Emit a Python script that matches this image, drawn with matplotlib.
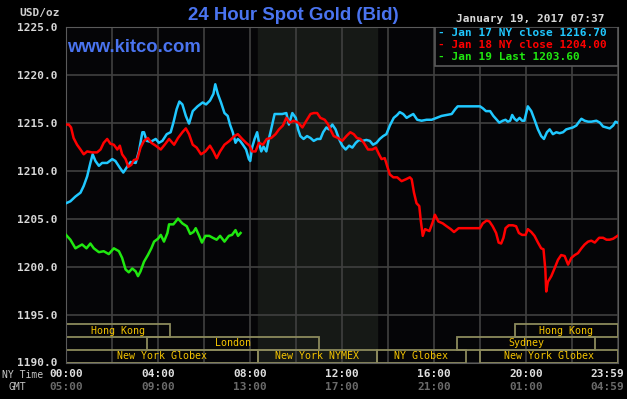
import matplotlib.pyplot as plt
from matplotlib.patches import Rectangle

# hours after midnight (NY time) and bid price in USD/oz
jan17_hours = [0.00, 0.19, 0.41, 0.63, 0.77, 0.92, 1.06, 1.16, 1.28, 1.43, 1.57, 1.79, 2.01, 2.15,
               2.34, 2.49, 2.66, 2.81, 3.03, 3.17, 3.32, 3.39, 3.51, 3.68, 3.90, 4.04, 4.19, 4.38,
               4.55, 4.67, 4.81, 4.93, 5.06, 5.21, 5.35, 5.51, 5.72, 5.94, 6.09, 6.26, 6.41, 6.49,
               6.60, 6.74, 6.89, 7.03, 7.13, 7.25, 7.37, 7.47, 7.57, 7.69, 7.83, 7.95, 8.01, 8.09,
               8.20, 8.31, 8.41, 8.49, 8.59, 8.71, 8.82, 8.92, 9.07, 9.21, 9.40, 9.58, 9.69, 9.84,
               9.99, 10.09, 10.19, 10.33, 10.48, 10.63, 10.77, 10.92, 11.06, 11.18, 11.32, 11.43,
               11.58, 11.72, 11.87, 12.01, 12.16, 12.31, 12.45, 12.60, 12.74, 12.89, 13.06, 13.21,
               13.35, 13.50, 13.64, 13.79, 13.93, 14.08, 14.25, 14.40, 14.51, 14.66, 14.81, 14.95,
               15.10, 15.27, 15.46, 15.68, 15.90, 16.12, 16.33, 16.55, 16.77, 16.92, 17.03, 17.24,
               17.53, 17.83, 18.00, 18.12, 18.26, 18.44, 18.58, 18.73, 18.84, 18.99, 19.11, 19.21,
               19.31, 19.40, 19.50, 19.60, 19.72, 19.83, 19.93, 20.08, 20.23, 20.37, 20.52, 20.66,
               20.78, 20.91, 21.03, 21.17, 21.32, 21.46, 21.61, 21.75, 21.90, 22.04, 22.19, 22.31,
               22.41, 22.55, 22.70, 22.84, 23.06, 23.21, 23.35, 23.50, 23.64, 23.79, 23.89, 23.98]
jan17_price = [1206.6, 1206.8, 1207.3, 1207.7, 1208.4, 1209.4, 1210.8, 1211.7, 1211.0, 1210.5,
               1210.8, 1210.8, 1211.2, 1211.0, 1210.3, 1209.8, 1210.4, 1210.9, 1210.8, 1212.0,
               1214.0, 1214.0, 1213.1, 1213.0, 1213.3, 1212.9, 1213.1, 1213.8, 1214.0, 1215.0,
               1216.4, 1217.2, 1216.9, 1215.7, 1214.9, 1216.2, 1216.7, 1217.1, 1216.9, 1217.3,
               1218.0, 1219.0, 1218.0, 1217.1, 1216.0, 1215.7, 1214.8, 1214.0, 1212.9, 1213.3,
               1213.1, 1212.7, 1212.2, 1211.2, 1211.0, 1212.4, 1213.3, 1214.0, 1212.7, 1212.0,
               1212.5, 1212.0, 1213.3, 1214.3, 1215.9, 1215.9, 1215.9, 1216.0, 1214.8, 1216.0,
               1215.5, 1214.3, 1213.6, 1213.3, 1213.6, 1213.4, 1213.1, 1213.3, 1213.3, 1214.0,
               1214.5, 1214.3, 1214.8, 1214.3, 1213.3, 1212.6, 1212.2, 1212.6, 1212.4, 1212.9,
               1213.2, 1213.1, 1213.2, 1213.1, 1212.7, 1212.9, 1213.3, 1213.6, 1213.8, 1214.7,
               1215.5, 1215.8, 1216.1, 1215.9, 1215.5, 1215.7, 1215.9, 1215.3, 1215.2, 1215.3,
               1215.3, 1215.5, 1215.7, 1215.8, 1215.9, 1216.4, 1216.7, 1216.7, 1216.7, 1216.7,
               1216.7, 1216.5, 1216.2, 1216.2, 1215.7, 1215.3, 1215.0, 1215.2, 1215.3, 1215.1,
               1215.2, 1215.8, 1215.4, 1215.2, 1215.5, 1215.2, 1215.2, 1216.7, 1216.2, 1215.3,
               1214.3, 1213.6, 1213.3, 1214.0, 1214.3, 1213.8, 1214.0, 1213.9, 1214.0, 1214.3,
               1214.4, 1214.5, 1214.7, 1215.1, 1215.4, 1215.2, 1215.1, 1215.1, 1215.2, 1215.0,
               1214.6, 1214.5, 1214.4, 1214.7, 1215.1, 1215.0]

jan18_hours = [0.00, 0.12, 0.22, 0.33, 0.48, 0.63, 0.77, 0.92, 1.13, 1.35, 1.50, 1.64, 1.79, 1.93,
               2.08, 2.23, 2.34, 2.44, 2.59, 2.71, 2.84, 2.95, 3.10, 3.24, 3.39, 3.56, 3.71, 3.90,
               4.12, 4.29, 4.48, 4.70, 4.87, 5.06, 5.21, 5.35, 5.51, 5.68, 5.87, 6.06, 6.26, 6.41,
               6.55, 6.70, 6.89, 7.11, 7.32, 7.47, 7.66, 7.83, 7.98, 8.09, 8.24, 8.39, 8.56, 8.73,
               8.92, 9.11, 9.26, 9.43, 9.58, 9.72, 9.90, 10.09, 10.28, 10.45, 10.63, 10.77, 10.92,
               11.06, 11.25, 11.40, 11.49, 11.64, 11.83, 12.01, 12.19, 12.36, 12.51, 12.65, 12.80,
               12.95, 13.13, 13.32, 13.47, 13.61, 13.72, 13.86, 13.96, 14.08, 14.23, 14.40, 14.59,
               14.78, 14.95, 15.03, 15.13, 15.24, 15.36, 15.42, 15.51, 15.61, 15.80, 15.94, 16.04,
               16.19, 16.38, 16.55, 16.73, 16.87, 17.02, 17.07, 17.32, 17.61, 18.00, 18.12, 18.29,
               18.41, 18.55, 18.70, 18.81, 18.92, 19.02, 19.11, 19.25, 19.43, 19.57, 19.69, 19.83,
               19.98, 20.08, 20.23, 20.37, 20.52, 20.66, 20.76, 20.84, 20.88, 20.95, 21.10, 21.24,
               21.39, 21.53, 21.68, 21.83, 21.97, 22.12, 22.26, 22.41, 22.55, 22.70, 22.84, 22.99,
               23.18, 23.35, 23.50, 23.64, 23.79, 23.98]
jan18_price = [1214.8, 1214.8, 1214.5, 1213.4, 1212.7, 1212.2, 1211.7, 1212.0, 1211.9, 1211.9,
               1212.2, 1212.9, 1213.3, 1212.8, 1212.7, 1212.2, 1212.6, 1211.7, 1211.2, 1210.4,
               1210.6, 1211.1, 1211.2, 1212.4, 1213.1, 1213.4, 1212.9, 1212.6, 1212.2, 1212.7,
               1213.3, 1212.7, 1213.4, 1214.0, 1214.4, 1213.8, 1212.7, 1212.4, 1211.7, 1212.0,
               1212.6, 1212.0, 1211.3, 1212.0, 1212.7, 1213.1, 1213.6, 1213.8, 1213.3, 1212.9,
               1212.6, 1212.0, 1212.0, 1212.9, 1212.7, 1213.3, 1213.4, 1213.8, 1214.3, 1214.7,
               1215.5, 1215.0, 1215.2, 1215.0, 1214.5, 1215.2, 1215.9, 1216.0, 1216.0, 1215.5,
               1215.3, 1214.8, 1214.3, 1213.6, 1213.4, 1213.1, 1213.6, 1214.0, 1213.8, 1213.4,
               1213.3, 1212.9, 1212.2, 1212.2, 1212.4, 1211.7, 1211.2, 1211.3, 1210.5, 1209.6,
               1209.3, 1209.3, 1208.9, 1209.1, 1209.3, 1209.1, 1207.7, 1206.6, 1206.3, 1204.9,
               1203.2, 1203.9, 1203.7, 1204.6, 1205.4, 1204.7, 1204.5, 1204.2, 1203.9, 1203.6,
               1203.9, 1204.0, 1204.0, 1204.0, 1204.0, 1204.5, 1204.8, 1204.7, 1204.2, 1203.5,
               1202.5, 1202.4, 1203.0, 1204.0, 1204.3, 1204.3, 1204.2, 1203.5, 1203.3, 1203.3,
               1203.9, 1203.6, 1203.2, 1202.5, 1201.9, 1201.8, 1199.7, 1197.4, 1198.4, 1199.0,
               1199.8, 1200.7, 1201.2, 1201.1, 1200.2, 1200.9, 1201.2, 1201.4, 1201.9, 1202.3,
               1202.6, 1202.7, 1202.5, 1203.0, 1203.0, 1202.8, 1202.8, 1202.9, 1203.2]

jan19_hours = [0.00, 0.19, 0.41, 0.55, 0.70, 0.89, 1.06, 1.21, 1.43, 1.64, 1.86, 2.08, 2.30, 2.44,
               2.59, 2.73, 2.88, 3.03, 3.13, 3.24, 3.39, 3.56, 3.71, 3.83, 4.00, 4.12, 4.26, 4.41,
               4.48, 4.67, 4.87, 5.06, 5.25, 5.40, 5.54, 5.64, 5.79, 5.91, 6.06, 6.23, 6.38, 6.55,
               6.70, 6.89, 7.08, 7.22, 7.37, 7.48, 7.59]
jan19_price = [1203.3, 1202.8, 1201.9, 1202.1, 1202.3, 1201.9, 1202.4, 1201.9, 1201.5, 1201.6,
               1201.3, 1201.9, 1201.6, 1200.9, 1199.7, 1199.4, 1199.8, 1199.5, 1199.0, 1199.5,
               1200.5, 1201.2, 1201.9, 1202.6, 1202.9, 1203.3, 1202.6, 1203.5, 1204.4, 1204.4,
               1205.0, 1204.5, 1204.2, 1203.4, 1203.6, 1204.0, 1203.2, 1202.5, 1203.2, 1203.2,
               1203.0, 1202.8, 1203.2, 1202.6, 1203.2, 1203.3, 1203.8, 1203.2, 1203.5]

legend_labels = ["- Jan 17 NY close 1216.70", "- Jan 18 NY close 1204.00", "- Jan 19 Last 1203.60"]
colors = ["#20c8ff", "#ff0000", "#20e810"]

# trading sessions (row 0 = top row of the strip)
session_names = ["Hong Kong", "London", "New York Globex", "New York NYMEX", "NY Globex",
                 "Sydney", "New York Globex", "Hong Kong"]
session_start = [0, 3.5, 0, 8.33, 13.5, 17, 18, 19.5]
session_end = [4.5, 11, 8.33, 13.5, 17.4, 23, 24, 24]
session_row = [0, 1, 2, 2, 2, 1, 2, 0]
nymex_pit = [8.33, 13.5]

ny_ticks = [0, 4, 8, 12, 16, 20, 24]
ny_labels = ["00:00", "04:00", "08:00", "12:00", "16:00", "20:00", "23:59"]
gmt_labels = ["05:00", "09:00", "13:00", "17:00", "21:00", "01:00", "04:59"]
y_ticks = [1190, 1195, 1200, 1205, 1210, 1215, 1220, 1225]

W, H = 627, 399
mono = "DejaVu Sans Mono"
fig = plt.figure(figsize=(W / 100, H / 100), dpi=100, facecolor="black")
ax = fig.add_axes([66 / W, 1 - 362.5 / H, 552 / W, 335.8 / H])
ax.set_facecolor("#050507")
ax.set_xlim(0, 24)
ax.set_ylim(1190, 1225)

ax.axvspan(nymex_pit[0], nymex_pit[1], color="#161916", zorder=0)
for h in range(0, 25, 2):
    ax.axvline(h, color="#404040", lw=1.2, zorder=1)
for y in y_ticks:
    ax.axhline(y, color="#404040", lw=1.2, zorder=1)

# session strip
row_h = 4 / 3
for name, s, e, r in zip(session_names, session_start, session_end, session_row):
    y0 = 1190 + (2 - r) * row_h
    ax.add_patch(Rectangle((s, y0), e - s, row_h, fill=False, edgecolor="#8c8a5c", lw=1.3, zorder=2))
    ax.text((s + e) / 2, y0 + row_h / 2, name, ha="center", va="center", color="#f4c400",
            fontsize=7.2, family=mono, zorder=3)

ax.plot(jan17_hours, jan17_price, color=colors[0], lw=1.8, zorder=4)
ax.plot(jan18_hours, jan18_price, color=colors[1], lw=1.8, zorder=5)
ax.plot(jan19_hours, jan19_price, color=colors[2], lw=1.8, zorder=6)

for s in ax.spines.values():
    s.set_color("#5a5a5a")
ax.set_xticks([])
ax.set_yticks(y_ticks)
ax.set_yticklabels([f"{v:.1f}" for v in y_ticks], family=mono, fontsize=8, weight="bold",
                   color="#d8d8d8")
ax.tick_params(axis="y", length=0, pad=6)

for h, ny, gmt in zip(ny_ticks, ny_labels, gmt_labels):
    dx = -8 if h == 24 else 0
    ax.annotate(ny, (h, 0), xycoords=("data", "axes fraction"), xytext=(dx, -8.3),
                textcoords="offset points", ha="center", va="center", family=mono,
                fontsize=8, weight="bold", color="#e0e0e0")
    ax.annotate(gmt, (h, 0), xycoords=("data", "axes fraction"), xytext=(dx, -17.5),
                textcoords="offset points", ha="center", va="center", family=mono,
                fontsize=8, weight="bold", color="#6a6a6a")

fig.text(23 / W, 1 - 375 / H, "NY Time", ha="center", va="center", family=mono,
         fontsize=7, color="#c8c8c8")
fig.text(17 / W, 1 - 387 / H, "GMT", ha="center", va="center", family=mono,
         fontsize=7, color="#c8c8c8")
fig.text(40 / W, 1 - 13 / H, "USD/oz", ha="center", va="center", family=mono,
         fontsize=8, weight="bold", color="#d0d0d0")

fig.text(293 / W, 1 - 15.5 / H, "24 Hour Spot Gold (Bid)", ha="center", va="center",
         family="Liberation Sans", fontsize=13.4, weight="bold", color="#4a74f0")
fig.text(67 / W, 1 - 48 / H, "www.kitco.com", ha="left", va="center",
         family="Liberation Sans", fontsize=13.3, weight="bold", color="#4a74f0")
fig.text(530 / W, 1 - 19.5 / H, "January 19, 2017 07:37", ha="center", va="center",
         family=mono, fontsize=8, weight="bold", color="#d8d8d8")

# legend box in the top-right corner
ax.add_patch(Rectangle((0.668, 0.884), 0.332, 0.116, transform=ax.transAxes,
                       facecolor="#050507", edgecolor="#5a5a5a", lw=1.2, zorder=7))
for i, (lab, c) in enumerate(zip(legend_labels, colors)):
    fig.text(438 / W, 1 - (33.5 + 11.8 * i) / H, lab, ha="left", va="center",
             family=mono, fontsize=8, weight="bold", color=c, zorder=8)

fig.savefig("out.png", dpi=100, facecolor="black")
